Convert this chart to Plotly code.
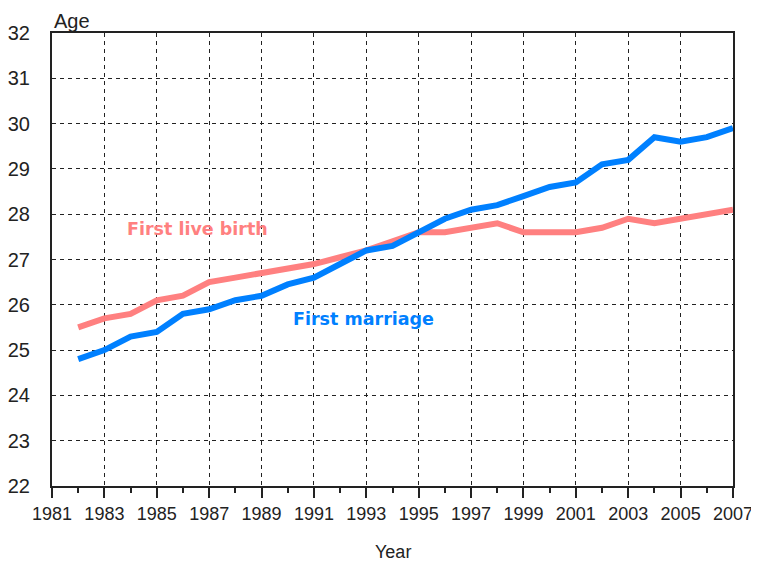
import plotly.graph_objects as go

years = list(range(1982, 2008))
first_marriage = [24.8, 25.0, 25.3, 25.4, 25.8, 25.9, 26.1, 26.2, 26.45, 26.6,
                  26.9, 27.2, 27.3, 27.6, 27.9, 28.1, 28.2, 28.4, 28.6, 28.7,
                  29.1, 29.2, 29.7, 29.6, 29.7, 29.9]
first_birth = [25.5, 25.7, 25.8, 26.1, 26.2, 26.5, 26.6, 26.7, 26.8, 26.9,
               27.05, 27.2, 27.4, 27.6, 27.6, 27.7, 27.8, 27.6, 27.6, 27.6,
               27.7, 27.9, 27.8, 27.9, 28.0, 28.1]
x_ticks = list(range(1981, 2008, 2))
x_minor = list(range(1982, 2008, 2))
y_ticks = list(range(22, 33))

PINK = "#FF8080"
BLUE = "#0080FF"
FONT = "Liberation Sans"
LABEL_FONT = "DejaVu Sans"

# page body has an 8px margin; compensate
W, H = 751, 555
ML, MR, MT, MB = 44, 26, 25, 77
PW, PH = W - ML - MR, H - MT - MB


def px(xp, yp):
    """page pixel -> paper coords"""
    fx, fy = xp - 8, yp - 8
    return (fx - ML) / PW, 1 - (fy - MT) / PH


fig = go.Figure()
fig.add_trace(go.Scatter(x=years, y=first_birth, mode="lines",
                         line=dict(color=PINK, width=6), name="First live birth"))
fig.add_trace(go.Scatter(x=years, y=first_marriage, mode="lines",
                         line=dict(color=BLUE, width=6), name="First marriage"))

ax, ay = px(52, 21.5)
yx, yy = px(393, 552)
fig.update_layout(
    width=W, height=H,
    margin=dict(l=ML, r=MR, t=MT, b=MB),
    plot_bgcolor="white", paper_bgcolor="white",
    showlegend=False,
    font=dict(family=FONT, size=17, color="#222"),
    annotations=[
        dict(text="<b>First live birth</b>", x=1986.56, y=27.68, xref="x", yref="y",
             showarrow=False, font=dict(family=LABEL_FONT, size=17.5, color=PINK)),
        dict(text="<b>First marriage</b>", x=1992.88, y=25.68, xref="x", yref="y",
             showarrow=False, font=dict(family=LABEL_FONT, size=17.5, color=BLUE)),
        dict(text="Age", x=ax, y=ay, xref="paper", yref="paper", showarrow=False,
             xanchor="left", yanchor="middle", font=dict(family=FONT, size=20, color="#222")),
        dict(text="Year", x=yx, y=yy, xref="paper", yref="paper", showarrow=False,
             xanchor="center", yanchor="middle", font=dict(family=FONT, size=18, color="#222")),
    ],
)

fig.update_xaxes(
    range=[1981, 2007], tickvals=x_ticks, ticks="outside", ticklen=10, tickwidth=1.5,
    tickcolor="#222", showline=True, linecolor="#222", linewidth=2, mirror=True,
    showgrid=True, gridcolor="#222", gridwidth=1, griddash="4px,4px",
    minor=dict(tickvals=x_minor, ticks="outside", ticklen=5, tickcolor="#222", showgrid=False),
    zeroline=False, tickfont=dict(size=18), automargin=False,
)
fig.update_yaxes(
    range=[22, 32], tickvals=y_ticks, ticks="", showline=True, linecolor="#222",
    linewidth=2, mirror=True, showgrid=True, gridcolor="#222", gridwidth=1,
    griddash="4px,4px", zeroline=False, ticklabelstandoff=16, tickfont=dict(size=20),
    automargin=False,
)

fig.write_html("out.html")
